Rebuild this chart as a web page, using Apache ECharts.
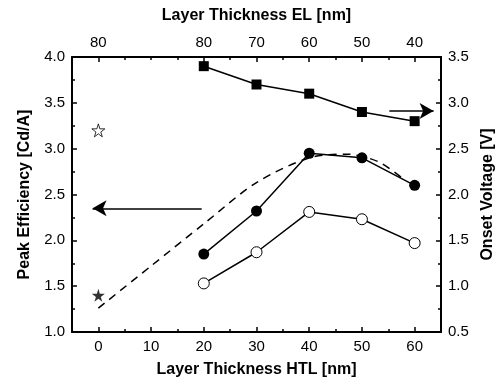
<!DOCTYPE html>
<html>
<head>
<meta charset="utf-8">
<script src="https://cdn.jsdelivr.net/npm/echarts@6/dist/echarts.min.js"></script>
<style>
  html, body { margin: 0; padding: 0; background: #fff; }
  #main { width: 496px; height: 383px; }
</style>
</head>
<body>
<div id="main"></div>
<script>
// HTL thickness (bottom axis) for the measured devices
var htl = [20, 30, 40, 50, 60];
// onset voltage, right axis
var onsetVoltage = [3.4, 3.2, 3.1, 2.9, 2.8];
// peak efficiency, left axis
var effFilled = [1.85, 2.32, 2.95, 2.9, 2.6];
var effOpen = [1.53, 1.87, 2.31, 2.23, 1.97];
// dashed guide curve
var dashX = [0, 10, 20, 30, 40, 47, 53, 58.3];
var dashY = [1.26, 1.72, 2.18, 2.63, 2.9, 2.94, 2.86, 2.65];
// reference devices at HTL = 0
var starOpen = [[0, 3.2]];
var starFilled = [[0, 1.4]];
// top axis: EL thickness at each HTL position
var elPos = [0, 20, 30, 40, 50, 60];
var elLabels = ['80', '80', '70', '60', '50', '40'];
var bottomMajor = [0, 10, 20, 30, 40, 50, 60];
var bottomMinor = [5, 15, 25, 35, 45, 55];
var topMinor = [5, 10, 15, 25, 35, 45, 55];
// arrows (data coords)
var arrowLeft = [[19.6, 2.35], [-1.1, 2.35]];
var arrowRight = [[55.2, 2.91], [63.6, 2.91]];

var font = 'Liberation Sans, Arial, sans-serif';
var star = 'path://M50,0 L61,35 L98,35 L68,57 L79,91 L50,70 L21,91 L32,57 L2,35 L39,35 Z';
var axisLine = { show: true, onZero: false, lineStyle: { color: '#000', width: 2 } };
var tickStyle = { color: '#000', width: 1.5 };
var labelStyle = { color: '#000', fontSize: 15, fontFamily: font };
var nameStyle = { color: '#000', fontSize: 16, fontWeight: 'bold', fontFamily: font };

function zip(xs, ys) {
    return xs.map(function (x, i) { return [x, ys[i]]; });
}

var chart = echarts.init(document.getElementById('main'));
var option = {
    animation: false,
    grid: { left: 72, right: 55, top: 57, bottom: 51, containLabel: false, outerBoundsMode: 'none' },
    xAxis: [
        {
            type: 'value', position: 'bottom', min: -5, max: 65, interval: 5,
            name: 'Layer Thickness HTL [nm]', nameLocation: 'middle', nameGap: 30, nameTextStyle: nameStyle,
            axisLine: axisLine,
            axisTick: { show: true, inside: true, length: 5, customValues: bottomMajor, lineStyle: tickStyle },
            axisLabel: Object.assign({ margin: 7, customValues: bottomMajor }, labelStyle),
            splitLine: { show: false }
        },
        {
            type: 'value', position: 'bottom', min: -5, max: 65, interval: 5,
            axisLine: { show: false, onZero: false },
            axisTick: { show: true, inside: true, length: 3, customValues: bottomMinor, lineStyle: tickStyle },
            axisLabel: { show: false },
            splitLine: { show: false }
        },
        {
            type: 'value', position: 'top', min: -5, max: 65, interval: 5,
            name: 'Layer Thickness EL [nm]', nameLocation: 'middle', nameGap: 33, nameTextStyle: nameStyle,
            axisLine: axisLine,
            axisTick: { show: true, inside: true, length: 5, customValues: elPos, lineStyle: tickStyle },
            axisLabel: Object.assign({
                margin: 7, customValues: elPos,
                formatter: function (v) { var i = elPos.indexOf(v); return i < 0 ? '' : elLabels[i]; }
            }, labelStyle),
            splitLine: { show: false }
        },
        {
            type: 'value', position: 'top', min: -5, max: 65, interval: 5,
            axisLine: { show: false, onZero: false },
            axisTick: { show: true, inside: true, length: 3, customValues: topMinor, lineStyle: tickStyle },
            axisLabel: { show: false },
            splitLine: { show: false }
        }
    ],
    yAxis: [
        {
            type: 'value', position: 'left', min: 1, max: 4, interval: 0.5,
            name: 'Peak Efficiency [Cd/A]', nameLocation: 'middle', nameGap: 39, nameTextStyle: nameStyle,
            axisLine: axisLine,
            axisTick: { show: true, inside: true, length: 5, lineStyle: tickStyle },
            minorTick: { show: true, splitNumber: 2, length: 3, lineStyle: tickStyle },
            axisLabel: Object.assign({ margin: 7, formatter: function (v) { return v.toFixed(1); } }, labelStyle),
            splitLine: { show: false }, minorSplitLine: { show: false }
        },
        {
            type: 'value', position: 'right', min: 0.5, max: 3.5, interval: 0.5,
            name: 'Onset Voltage [V]', nameLocation: 'middle', nameGap: 38, nameRotate: 90, nameTextStyle: nameStyle,
            axisLine: axisLine,
            axisTick: { show: true, inside: true, length: 5, lineStyle: tickStyle },
            minorTick: { show: true, splitNumber: 2, length: 3, lineStyle: tickStyle },
            axisLabel: Object.assign({ margin: 7, formatter: function (v) { return v.toFixed(1); } }, labelStyle),
            splitLine: { show: false }, minorSplitLine: { show: false }
        }
    ],
    series: [
        {
            type: 'line', smooth: 0.3, xAxisIndex: 0, yAxisIndex: 0,
            data: zip(dashX, dashY), showSymbol: false, symbol: 'none',
            lineStyle: { color: '#000', width: 1.5, type: [8, 6] },
            markLine: {
                silent: true, symbol: ['none', 'arrow'], symbolSize: [12, 14],
                label: { show: false },
                lineStyle: { color: '#000', width: 1.5, type: 'solid' },
                data: [[{ coord: arrowLeft[0] }, { coord: arrowLeft[1] }]]
            }
        },
        {
            type: 'line', xAxisIndex: 0, yAxisIndex: 1,
            data: zip(htl, onsetVoltage), symbol: 'rect', symbolSize: 10,
            itemStyle: { color: '#000' }, lineStyle: { color: '#000', width: 1.5 },
            markLine: {
                silent: true, symbol: ['none', 'arrow'], symbolSize: [12, 14],
                label: { show: false },
                lineStyle: { color: '#000', width: 1.5, type: 'solid' },
                data: [[{ coord: arrowRight[0] }, { coord: arrowRight[1] }]]
            }
        },
        {
            type: 'line', xAxisIndex: 0, yAxisIndex: 0,
            data: zip(htl, effFilled), symbol: 'circle', symbolSize: 11,
            itemStyle: { color: '#000' }, lineStyle: { color: '#000', width: 1.5 }
        },
        {
            type: 'line', xAxisIndex: 0, yAxisIndex: 0,
            data: zip(htl, effOpen), symbol: 'circle', symbolSize: 11,
            itemStyle: { color: '#fff', borderColor: '#000', borderWidth: 1 },
            lineStyle: { color: '#000', width: 1.5 }
        },
        {
            type: 'scatter', xAxisIndex: 0, yAxisIndex: 0,
            data: starOpen, symbol: star, symbolSize: 13,
            itemStyle: { color: '#fff', borderColor: '#000', borderWidth: 1 }
        },
        {
            type: 'scatter', xAxisIndex: 0, yAxisIndex: 0,
            data: starFilled, symbol: star, symbolSize: 13,
            itemStyle: { color: '#000' }
        }
    ]
};
chart.setOption(option);
</script>
</body>
</html>
